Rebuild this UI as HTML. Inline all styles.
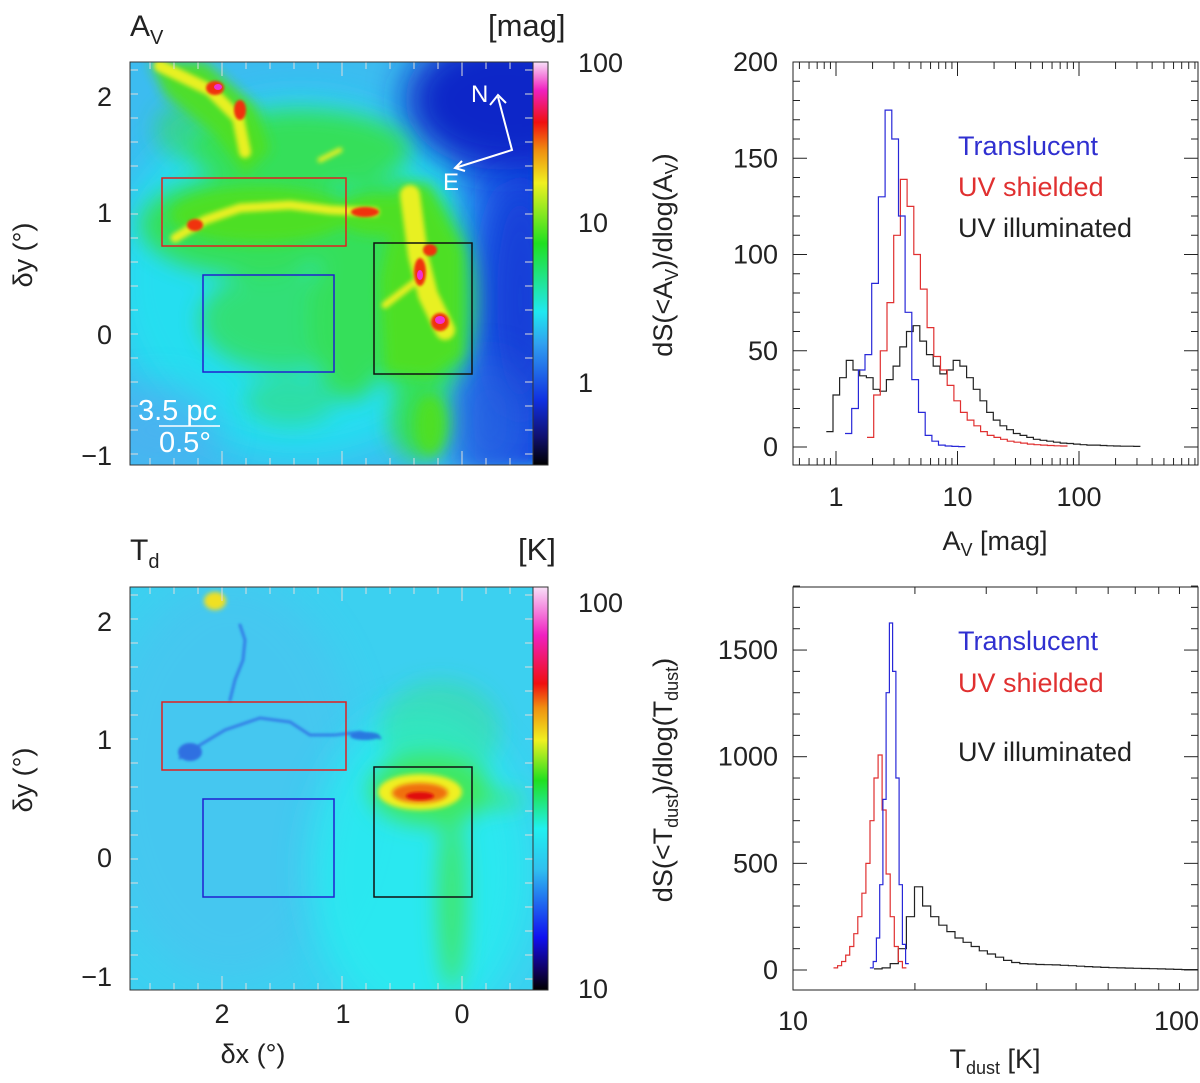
<!DOCTYPE html>
<html><head><meta charset="utf-8"><style>
body{margin:0;background:#fff}
svg{display:block}
text{font-family:"Liberation Sans",sans-serif;fill:#222}
</style></head><body>
<svg id="fig" width="1200" height="1083" viewBox="0 0 1200 1083" xmlns="http://www.w3.org/2000/svg">
<defs>
<filter id="b20" x="-50%" y="-50%" width="200%" height="200%"><feGaussianBlur stdDeviation="18"/></filter>
<filter id="b12" x="-50%" y="-50%" width="200%" height="200%"><feGaussianBlur stdDeviation="11"/></filter>
<filter id="b8" x="-50%" y="-50%" width="200%" height="200%"><feGaussianBlur stdDeviation="6"/></filter>
<filter id="b3" x="-50%" y="-50%" width="200%" height="200%"><feGaussianBlur stdDeviation="2.5"/></filter>
<filter id="b1" x="-50%" y="-50%" width="200%" height="200%"><feGaussianBlur stdDeviation="1.2"/></filter>
<clipPath id="c1"><rect x="130" y="62" width="403" height="403"/></clipPath>
<clipPath id="c2"><rect x="130" y="587" width="403" height="403"/></clipPath>
<linearGradient id="cbA" x1="0" y1="1" x2="0" y2="0">
<stop offset="0" stop-color="#000"/><stop offset="0.07" stop-color="#101070"/><stop offset="0.16" stop-color="#1030e0"/><stop offset="0.3" stop-color="#30a0f0"/><stop offset="0.38" stop-color="#20e8f0"/><stop offset="0.55" stop-color="#20e020"/><stop offset="0.7" stop-color="#f0f020"/><stop offset="0.78" stop-color="#f09010"/><stop offset="0.85" stop-color="#f01010"/><stop offset="0.93" stop-color="#f020c0"/><stop offset="1" stop-color="#f8e0f8"/></linearGradient>
<linearGradient id="cbT" x1="0" y1="1" x2="0" y2="0">
<stop offset="0" stop-color="#000"/><stop offset="0.05" stop-color="#100060"/><stop offset="0.13" stop-color="#1010f0"/><stop offset="0.3" stop-color="#30c0f0"/><stop offset="0.4" stop-color="#20f0f0"/><stop offset="0.52" stop-color="#20e020"/><stop offset="0.62" stop-color="#f0f020"/><stop offset="0.7" stop-color="#f09010"/><stop offset="0.76" stop-color="#f01010"/><stop offset="0.88" stop-color="#f020c0"/><stop offset="1" stop-color="#f8e0f8"/></linearGradient>
<linearGradient id="rightBlue" x1="0" y1="0" x2="1" y2="0"><stop offset="0" stop-color="#1a50e8" stop-opacity="0"/><stop offset="0.5" stop-color="#1a50e8" stop-opacity="0.8"/><stop offset="1" stop-color="#1040e0"/></linearGradient>
</defs>

<!-- TOP MAP -->
<g clip-path="url(#c1)">
<rect x="130" y="62" width="403" height="403" fill="#3cbcf0"/>
<ellipse cx="300" cy="280" rx="190" ry="180" fill="#20e4f0" filter="url(#b20)" opacity="0.85"/>
<rect x="440" y="62" width="100" height="403" fill="url(#rightBlue)" filter="url(#b8)"/>
<ellipse cx="505" cy="100" rx="100" ry="70" fill="#0e28c8" filter="url(#b20)"/>
<ellipse cx="520" cy="300" rx="35" ry="120" fill="#1840d8" filter="url(#b20)"/>
<ellipse cx="490" cy="420" rx="40" ry="60" fill="#2860e0" filter="url(#b20)" opacity="0.7"/>
<ellipse cx="160" cy="430" rx="60" ry="45" fill="#50b0f0" filter="url(#b20)" opacity="0.7"/>
<g fill="#38e040" filter="url(#b12)" opacity="0.85">
<ellipse cx="300" cy="150" rx="110" ry="40"/>
<ellipse cx="250" cy="225" rx="110" ry="50"/>
<ellipse cx="390" cy="220" rx="60" ry="40"/>
<ellipse cx="280" cy="320" rx="80" ry="50" opacity="0.8"/>
<ellipse cx="350" cy="320" rx="40" ry="80"/>
<ellipse cx="420" cy="300" rx="55" ry="100"/>
<ellipse cx="420" cy="420" rx="30" ry="40"/>
<ellipse cx="290" cy="400" rx="45" ry="25" opacity="0.5"/>
<ellipse cx="190" cy="130" rx="35" ry="30" opacity="0.6"/>
</g>
<g fill="#50e020" filter="url(#b8)" opacity="0.95">
<polygon points="150,62 205,62 255,105 270,150 245,175 215,135 165,95"/>
<ellipse cx="260" cy="215" rx="90" ry="28"/>
<ellipse cx="380" cy="215" rx="45" ry="20"/>
<polygon points="400,185 428,185 462,250 462,355 430,378 385,372 380,280"/>
<ellipse cx="430" cy="425" rx="15" ry="30"/>
</g>
<g fill="none" stroke="#e8f020" stroke-linecap="round" filter="url(#b3)">
<polyline points="160,66 210,90 238,118 245,152" stroke-width="12"/>
<polyline points="175,238 205,220 240,208 290,205 330,210 375,212" stroke-width="9"/>
<polyline points="410,195 418,255 428,295 445,330" stroke-width="20"/>
<polyline points="385,305 415,282" stroke-width="7"/>
<polyline points="320,160 340,150" stroke-width="5"/>
</g>
<g fill="#f03010" filter="url(#b1)">
<ellipse cx="215" cy="88" rx="9" ry="7"/><ellipse cx="240" cy="110" rx="6" ry="10"/>
<ellipse cx="195" cy="225" rx="8" ry="6"/><ellipse cx="365" cy="212" rx="14" ry="5"/>
<ellipse cx="420" cy="272" rx="6" ry="14"/><ellipse cx="440" cy="322" rx="9" ry="9"/><ellipse cx="430" cy="250" rx="7" ry="6"/>
</g>
<g fill="#f030d0"><ellipse cx="218" cy="87" rx="4" ry="3"/><ellipse cx="420" cy="275" rx="3" ry="5"/><ellipse cx="440" cy="320" rx="5" ry="4"/></g>
<g stroke="#ddd" stroke-width="1" id="mapTicks1"></g>
</g>
<rect x="130" y="62" width="403" height="403" fill="none" stroke="#333" stroke-width="1"/>
<rect x="162" y="178" width="184" height="68" fill="none" stroke="#e02020" stroke-width="1.5"/>
<rect x="203" y="275" width="131" height="97" fill="none" stroke="#2020d0" stroke-width="1.5"/>
<rect x="374" y="243" width="98" height="131" fill="none" stroke="#111" stroke-width="1.5"/>
<g stroke="#fff" stroke-width="2" fill="none">
<polyline points="455,168 512,150 498,97"/><polyline points="490,105 498,95 506,103"/><polyline points="462,161 455,168 465,171"/>
</g>
<text x="471" y="102" font-size="24" style="fill:#fff">N</text>
<text x="443" y="190" font-size="24" style="fill:#fff">E</text>
<text x="138" y="420" font-size="29" style="fill:#fff">3.5 pc</text>
<line x1="159" y1="426" x2="220" y2="426" stroke="#fff" stroke-width="1.5"/>
<text x="159" y="452" font-size="29" style="fill:#fff">0.5°</text>
<rect x="533" y="62" width="15" height="403" fill="url(#cbA)" stroke="#333"/>

<!-- BOTTOM MAP -->
<g clip-path="url(#c2)">
<rect x="130" y="587" width="403" height="403" fill="#3cd0f0"/>
<ellipse cx="230" cy="780" rx="130" ry="200" fill="#48c4f0" filter="url(#b20)" opacity="0.7"/>
<ellipse cx="420" cy="870" rx="110" ry="160" fill="#28eef0" filter="url(#b20)" opacity="0.8"/>
<g fill="#40e860" filter="url(#b12)">
<ellipse cx="440" cy="730" rx="60" ry="50" opacity="0.35"/>
<ellipse cx="430" cy="790" rx="60" ry="35"/>
<ellipse cx="452" cy="900" rx="14" ry="90" opacity="0.9"/>
<ellipse cx="490" cy="800" rx="35" ry="6"/>
</g>
<ellipse cx="420" cy="792" rx="42" ry="18" fill="#f0f020" filter="url(#b3)"/>
<ellipse cx="420" cy="793" rx="28" ry="10" fill="#f07010" filter="url(#b3)"/>
<ellipse cx="420" cy="796" rx="14" ry="4" fill="#e01010" filter="url(#b1)"/>
<ellipse cx="215" cy="601" rx="11" ry="9" fill="#f0e020" filter="url(#b3)"/>
<g fill="none" stroke="#2850e0" stroke-linecap="round" filter="url(#b1)" opacity="0.6">
<polyline points="180,758 200,745 225,730 260,718 290,722 310,735 335,735 360,732 380,738" stroke-width="3"/>
<polyline points="240,625 245,640 243,660 235,680 230,700" stroke-width="3"/>
<ellipse cx="190" cy="752" rx="12" ry="9" fill="#2038d8" stroke="none"/>
<ellipse cx="365" cy="736" rx="15" ry="4" fill="#2038d8" stroke="none"/>
</g>
<g stroke="#ddd" stroke-width="1" id="mapTicks2"></g>
</g>
<rect x="130" y="587" width="403" height="403" fill="none" stroke="#333"/>
<rect x="162" y="702" width="184" height="68" fill="none" stroke="#e02020" stroke-width="1.5"/>
<rect x="203" y="799" width="131" height="98" fill="none" stroke="#2020d0" stroke-width="1.5"/>
<rect x="374" y="767" width="98" height="130" fill="none" stroke="#111" stroke-width="1.5"/>
<rect x="533" y="587" width="15" height="403" fill="url(#cbT)" stroke="#333"/>

<!-- map labels -->
<g font-size="27">
<text x="130" y="36" font-size="30">A<tspan font-size="20" dy="8">V</tspan></text>
<text x="488" y="36" font-size="31">[mag]</text>
<text x="130" y="560" font-size="30">T<tspan font-size="20" dy="8">d</tspan></text>
<text x="518" y="560" font-size="31">[K]</text>
<text x="112" y="106" text-anchor="end">2</text><text x="112" y="222" text-anchor="end">1</text><text x="112" y="344" text-anchor="end">0</text><text x="112" y="465" text-anchor="end">−1</text>
<text x="112" y="631" text-anchor="end">2</text><text x="112" y="749" text-anchor="end">1</text><text x="112" y="867" text-anchor="end">0</text><text x="112" y="986" text-anchor="end">−1</text>
<text x="222" y="1023" text-anchor="middle">2</text><text x="343" y="1023" text-anchor="middle">1</text><text x="462" y="1023" text-anchor="middle">0</text>
<text transform="translate(32,255) rotate(-90)" text-anchor="middle">δy (°)</text>
<text transform="translate(32,780) rotate(-90)" text-anchor="middle">δy (°)</text>
<text x="253" y="1063" text-anchor="middle">δx (°)</text>
<text x="578" y="72">100</text><text x="578" y="232">10</text><text x="578" y="392">1</text>
<text x="578" y="612">100</text><text x="578" y="998">10</text>
</g>

<!-- HISTOGRAMS -->
<g id="h1"></g>
<g id="h2"></g>
<g font-size="27">
<text transform="translate(672,255) rotate(-90)" text-anchor="middle">dS(&lt;A<tspan font-size="18" dy="6">V</tspan><tspan dy="-6">)/dlog(A</tspan><tspan font-size="18" dy="6">V</tspan><tspan dy="-6">)</tspan></text>
<text transform="translate(672,780) rotate(-90)" text-anchor="middle">dS(&lt;T<tspan font-size="18" dy="6">dust</tspan><tspan dy="-6">)/dlog(T</tspan><tspan font-size="18" dy="6">dust</tspan><tspan dy="-6">)</tspan></text>
<text x="995" y="550" text-anchor="middle">A<tspan font-size="18" dy="6">V</tspan><tspan dy="-6"> [mag]</tspan></text>
<text x="995" y="1068" text-anchor="middle">T<tspan font-size="18" dy="6">dust</tspan><tspan dy="-6"> [K]</tspan></text>
<text x="958" y="155" style="fill:#3030d0">Translucent</text>
<text x="958" y="196" style="fill:#e03030">UV shielded</text>
<text x="958" y="237">UV illuminated</text>
<text x="958" y="650" style="fill:#3030d0">Translucent</text>
<text x="958" y="692" style="fill:#e03030">UV shielded</text>
<text x="958" y="761">UV illuminated</text>
</g>
</svg>
<script>
// Av histogram data (bins in log10 Av)
const avBinWidth = 0.055;
const avTransStart = 0.074;
const avTrans = [7,20,40,48,85,130,175,160,120,70,35,18,6,3,1,0.5,0.3,0.2];
const avShieldStart = 0.255;
const avShield = [5,27,50,75,110,139,125,100,82,62,47,40,32,24,18,14,11,8,6,5,4,3,2.5,2,1.5,1.2,1,0.8,0.6,0.5];
const avIllumStart = -0.08;
const avIllum = [8,27,36,45,40,37,36,30,29,35,42,52,60,63,55,48,42,38,40,45,42,36,30,24,18,14,11,9,7,6,5,4,3.5,3,2.5,2,1.8,1.5,1.2,1,1,0.8,0.6,0.5,0.4,0.4,0.3];
const avYTicks = [0,50,100,150,200];
const avXTicks = [1,10,100];
// Tdust histogram data
const tdTransStart = 1.19, tdTransW = 0.008;
const tdTrans = [10,40,150,400,800,1300,1627,1400,900,400,120,30];
const tdShieldStart = 1.10, tdShieldW = 0.01;
const tdShield = [10,20,40,70,110,170,250,360,500,700,900,1008,750,450,250,110,40,10];
const tdIllumStart = 1.20, tdIllumW = 0.02;
const tdIllum = [5,10,30,100,250,390,300,250,210,180,150,130,110,90,75,60,45,35,30,28,26,25,24,22,20,18,16,14,12,11,10,9,8,7,6,5,4,3,2,2];
const tdYTicks = [0,500,1000,1500];
const tdXTicks = [10,100];

const NS='http://www.w3.org/2000/svg';
function mk(tag, attrs, parent){const e=document.createElementNS(NS,tag);for(const k in attrs)e.setAttribute(k,attrs[k]);parent.appendChild(e);return e;}
const xA=v=>836+121.5*Math.log10(v), xAl=l=>836+121.5*l, yA=c=>447-1.925*c;
const xT=t=>793+405*(Math.log10(t)-1), xTl=l=>793+405*(l-1), yT=c=>970-0.2133*c;

function stepPath(start,w,vals,xl,y){
  let d='M'+xl(start).toFixed(1)+','+y(vals[0]).toFixed(1);
  vals.forEach((v,i)=>{ if(i>0) d+='V'+y(v).toFixed(1); d+='H'+xl(start+(i+1)*w).toFixed(1); });
  return d;
}
function frame(g,x0,y0,x1,y1){ mk('rect',{x:x0,y:y0,width:x1-x0,height:y1-y0,fill:'none',stroke:'#222','stroke-width':1},g); }

function logTicks(g,xf,lo,hi,y0,y1){
  for(let p=-1;p<=3;p++)for(let m=1;m<10;m++){const v=m*Math.pow(10,p);if(v<lo||v>hi)continue;const x=xf(v);const L=m===1?14:7;
    mk('line',{x1:x,x2:x,y1:y1,y2:y1-L,stroke:'#222'},g);
    mk('line',{x1:x,x2:x,y1:y0,y2:y0+L,stroke:'#222'},g);}
}
function linTicks(g,yf,lo,hi,step,major,x0,x1){
  for(let v=lo;v<=hi+1e-9;v+=step){const y=yf(v);const L=(Math.round(v)%major===0)?14:7;
    mk('line',{x1:x0,x2:x0+L,y1:y,y2:y,stroke:'#222'},g);mk('line',{x1:x1,x2:x1-L,y1:y,y2:y,stroke:'#222'},g);}
}
// top histogram
const h1=document.getElementById('h1');
frame(h1,793,62,1198,465);
logTicks(h1,xA,0.45,950,62,465);
linTicks(h1,yA,0,200,10,50,793,1198);
avYTicks.forEach(v=>{const t=mk('text',{x:778,y:yA(v)+9,'text-anchor':'end','font-size':27},h1);t.textContent=v;

});
avXTicks.forEach(v=>{const t=mk('text',{x:xA(v),y:506,'text-anchor':'middle','font-size':27},h1);t.textContent=v;

});
[[avIllumStart,avIllum,'#222','av-uv-illuminated-line'],[avShieldStart,avShield,'#e03030','av-uv-shielded-line'],[avTransStart,avTrans,'#2828d8','av-translucent-line']].forEach(s=>{
  const p=mk('path',{d:stepPath(s[0],avBinWidth,s[1],xAl,yA),fill:'none',stroke:s[2],'stroke-width':1.2},h1);
  
  
});
// bottom histogram
const h2=document.getElementById('h2');
frame(h2,793,587,1198,990);
logTicks(h2,xT,10,100,587,990);
linTicks(h2,yT,0,1800,100,500,793,1198);
tdYTicks.forEach(v=>{const t=mk('text',{x:778,y:yT(v)+9,'text-anchor':'end','font-size':27},h2);t.textContent=v;

});
tdXTicks.forEach((v,i)=>{const last=i===tdXTicks.length-1;const t=mk('text',{x:last?1199:xT(v),y:1030,'text-anchor':last?'end':'middle','font-size':27},h2);t.textContent=v;

});
[[tdIllumStart,tdIllumW,tdIllum,'#222','td-uv-illuminated-line'],[tdShieldStart,tdShieldW,tdShield,'#e03030','td-uv-shielded-line'],[tdTransStart,tdTransW,tdTrans,'#2828d8','td-translucent-line']].forEach(s=>{
  const p=mk('path',{d:stepPath(s[0],s[1],s[2],xTl,yT),fill:'none',stroke:s[3],'stroke-width':1.2},h2);
  
  
});
// map tick marks
function mapTicks(id,y0){const g=document.getElementById(id);
  for(let d=-0.6;d<=2.8;d+=0.2){const x=462-120*d;if(x<131||x>532)continue;const L=Math.abs(Math.round(d)-d)<0.01?14:7;
    mk('line',{x1:x,x2:x,y1:y0,y2:y0+L},g);mk('line',{x1:x,x2:x,y1:y0+403,y2:y0+403-L},g);}
  for(let k=0;k<17;k++){const y=y0+8+k*24;mk('line',{x1:130,x2:138,y1:y,y2:y},g);mk('line',{x1:533,x2:525,y1:y,y2:y},g);}
}
mapTicks('mapTicks1',62);mapTicks('mapTicks2',587);
</script>
</body></html>
